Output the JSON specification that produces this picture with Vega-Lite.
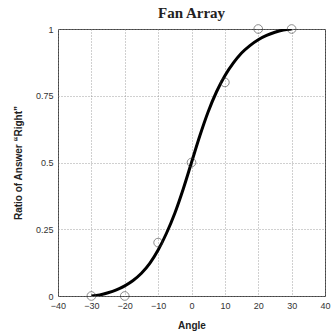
{
  "$schema": "https://vega.github.io/schema/vega-lite/v6.json",
  "autosize": "none",
  "width": 267,
  "height": 267,
  "padding": {"left": 58, "top": 29, "right": 6, "bottom": 37},
  "background": "white",
  "title": {"text": "Fan Array", "font": "Liberation Serif", "fontSize": 15, "fontWeight": "bold", "color": "#222", "offset": 2},
  "config": {
    "view": {"stroke": "#444", "strokeWidth": 1},
    "axis": {
      "grid": true, "gridColor": "#888", "gridDash": [1, 2], "gridWidth": 0.8,
      "domain": false, "ticks": false, "labelOverlap": false, "labelFlush": false,
      "labelFont": "Liberation Sans", "labelFontSize": 9, "labelColor": "#333",
      "titleFont": "Liberation Sans", "titleFontSize": 10, "titleFontWeight": "bold", "titleColor": "#222"
    }
  },
  "datasets": {
    "curve": [
      {"angle": -30, "ratio": 0.0},
      {"angle": -27.5, "ratio": 0.004},
      {"angle": -25, "ratio": 0.012},
      {"angle": -22.5, "ratio": 0.023},
      {"angle": -20, "ratio": 0.038},
      {"angle": -17.5, "ratio": 0.058},
      {"angle": -15, "ratio": 0.085},
      {"angle": -12.5, "ratio": 0.122},
      {"angle": -10, "ratio": 0.172},
      {"angle": -7.5, "ratio": 0.235},
      {"angle": -5, "ratio": 0.31},
      {"angle": -2.5, "ratio": 0.4},
      {"angle": 0, "ratio": 0.5},
      {"angle": 2.5, "ratio": 0.6},
      {"angle": 5, "ratio": 0.69},
      {"angle": 7.5, "ratio": 0.765},
      {"angle": 10, "ratio": 0.825},
      {"angle": 12.5, "ratio": 0.872},
      {"angle": 15, "ratio": 0.91},
      {"angle": 17.5, "ratio": 0.938},
      {"angle": 20, "ratio": 0.96},
      {"angle": 22.5, "ratio": 0.976},
      {"angle": 25, "ratio": 0.988},
      {"angle": 27.5, "ratio": 0.996},
      {"angle": 30, "ratio": 1.0}
    ],
    "obs": [
      {"angle": -30, "ratio": 0},
      {"angle": -20, "ratio": 0},
      {"angle": -10, "ratio": 0.2},
      {"angle": 0, "ratio": 0.5},
      {"angle": 10, "ratio": 0.8},
      {"angle": 20, "ratio": 1},
      {"angle": 30, "ratio": 1}
    ]
  },
  "encoding": {
    "x": {"field": "angle", "type": "quantitative", "scale": {"domain": [-40, 40], "nice": false}, "axis": {"values": [-40, -30, -20, -10, 0, 10, 20, 30, 40], "labelExpr": "datum.value < 0 ? '\u2212' + abs(datum.value) : '' + datum.value", "title": "Angle", "labelPadding": 5, "titlePadding": 10}},
    "y": {"field": "ratio", "type": "quantitative", "scale": {"domain": [0, 1], "nice": false}, "axis": {"values": [0, 0.25, 0.5, 0.75, 1], "labelExpr": "'' + datum.value", "title": "Ratio of Answer \u201cRight\u201d", "labelPadding": 5, "titlePadding": 12}}
  },
  "layer": [
    {
      "data": {"name": "curve"},
      "mark": {"type": "line", "color": "black", "strokeWidth": 3, "interpolate": "monotone", "clip": true}
    },
    {
      "data": {"name": "obs"},
      "mark": {"type": "point", "shape": "circle", "filled": false, "stroke": "#333", "strokeWidth": 0.8, "size": 75, "clip": false}
    }
  ]
}
